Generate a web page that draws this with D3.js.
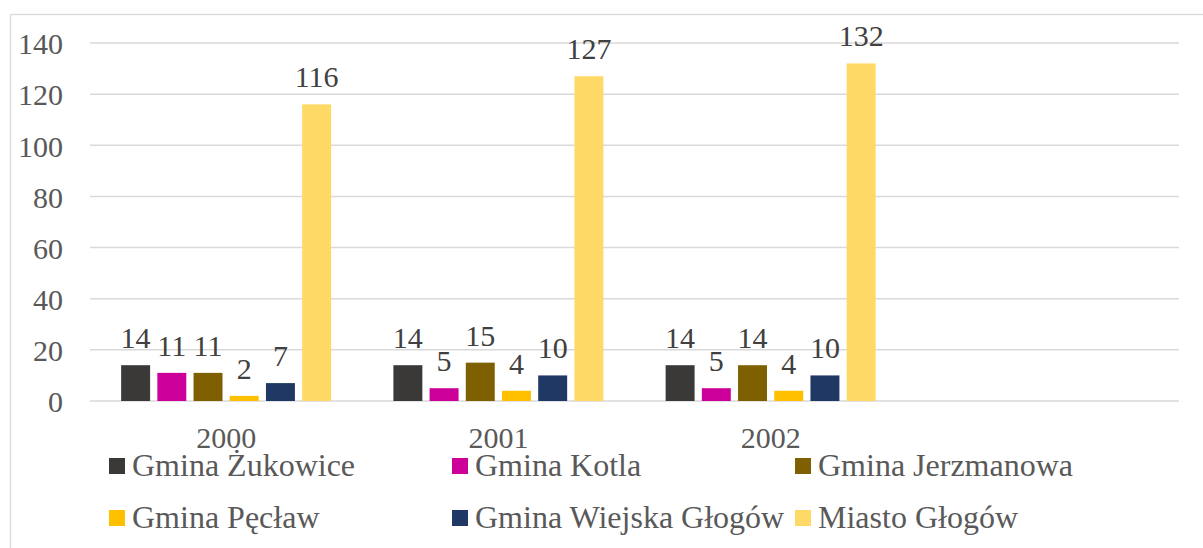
<!DOCTYPE html>
<html>
    <head>
        <meta charset="utf-8"/>
        <title>Gminy</title>
        <script src="https://d3js.org/d3.v7.min.js"></script>
        <style>
            body { margin: 0; background: #fff; }
            svg text { font-family: "Liberation Serif", Tinos, "Times New Roman", "DejaVu Serif", serif !important; }
        </style>
    </head>
    <body>
        <div id="output"></div>
        <script>
            // categories (last slot is empty in the original)
            var years = ["2000", "2001", "2002", ""];
            var seriesNames = ["Gmina Żukowice", "Gmina Kotla", "Gmina Jerzmanowa",
                               "Gmina Pęcław", "Gmina Wiejska Głogów", "Miasto Głogów"];
            var seriesColors = ["#3B3838", "#CC0099", "#7F6000", "#FFC000", "#1F3864", "#FFD966"];
            // values per series, one per year
            var zukowice   = [14, 14, 14];
            var kotla      = [11, 5, 5];
            var jerzmanowa = [11, 15, 14];
            var peclaw     = [2, 4, 4];
            var wiejska    = [7, 10, 10];
            var miasto     = [116, 127, 132];
            var yTicks = [0, 20, 40, 60, 80, 100, 120, 140];

            var seriesValues = [zukowice, kotla, jerzmanowa, peclaw, wiejska, miasto];

            var W = 1203, H = 548;
            var svg = d3.select("#output").append("svg")
                .attr("width", W).attr("height", H);

            // outer chart frame
            svg.append("rect")
                .attr("x", 10.5).attr("y", 14.5)
                .attr("width", 1210).attr("height", 560)
                .attr("fill", "none").attr("stroke", "#D9D9D9").attr("stroke-width", 1.3);

            var x0 = d3.scaleBand().domain(years).range([90, 1179]);
            var x1 = d3.scaleBand().domain(seriesNames)
                .range([0, x0.bandwidth()])
                .paddingInner(0.2).paddingOuter(0.86);
            var y = d3.scaleLinear().domain([0, 140]).range([401, 43]);

            // gridlines
            svg.append("g").selectAll("line")
                .data(yTicks).enter().append("line")
                .attr("x1", 90).attr("x2", 1179)
                .attr("y1", function(d) { return y(d); })
                .attr("y2", function(d) { return y(d); })
                .attr("stroke", "#D9D9D9").attr("stroke-width", 1.5);

            // y axis labels
            var yAxis = d3.axisLeft(y).tickValues(yTicks).tickSize(0).tickPadding(0);
            svg.append("g")
                .attr("transform", "translate(63,0)")
                .call(yAxis)
                .attr("font-family", null)
                .call(function(g) { g.select(".domain").remove(); })
                .selectAll("text")
                    .style("font-size", "30px")
                    .attr("fill", "#595959")
                    .attr("dy", "0.36em");

            // x axis labels
            var xAxis = d3.axisBottom(x0).tickSize(0).tickPadding(0);
            svg.append("g")
                .attr("transform", "translate(0,448)")
                .call(xAxis)
                .attr("font-family", null)
                .call(function(g) { g.select(".domain").remove(); })
                .selectAll("text")
                    .style("font-size", "30px")
                    .attr("fill", "#595959")
                    .attr("y", 0).attr("dy", 0);

            // bars
            var groups = svg.append("g").selectAll("g")
                .data(seriesNames).enter().append("g")
                .attr("fill", function(d, i) { return seriesColors[i]; });

            groups.selectAll("rect")
                .data(function(d, i) {
                    return seriesValues[i].map(function(v, j) { return {s: d, year: years[j], v: v}; });
                })
                .enter().append("rect")
                .attr("x", function(d) { return x0(d.year) + x1(d.s); })
                .attr("y", function(d) { return y(d.v); })
                .attr("width", x1.bandwidth())
                .attr("height", function(d) { return y(0) - y(d.v); });

            // data labels
            groups.selectAll("text")
                .data(function(d, i) {
                    return seriesValues[i].map(function(v, j) { return {s: d, year: years[j], v: v}; });
                })
                .enter().append("text")
                .attr("x", function(d) { return x0(d.year) + x1(d.s) + x1.bandwidth() / 2; })
                .attr("y", function(d) { return y(d.v) - 17; })
                .attr("text-anchor", "middle")
                .style("font-size", "30px")
                .attr("fill", "#404040")
                .text(function(d) { return d.v; });

            // legend, 3 columns x 2 rows
            var legend = svg.append("g").selectAll("g")
                .data(seriesNames).enter().append("g")
                .attr("transform", function(d, i) {
                    return "translate(" + (109 + (i % 3) * 343) + "," + (476 + Math.floor(i / 3) * 52) + ")";
                });
            legend.append("rect")
                .attr("x", 0).attr("y", -18)
                .attr("width", 16).attr("height", 16)
                .attr("fill", function(d, i) { return seriesColors[i]; });
            legend.append("text")
                .attr("x", 23).attr("y", 0)
                .style("font-size", "32px")
                .attr("fill", "#595959")
                .text(function(d) { return d; });
        </script>
    </body>
</html>
